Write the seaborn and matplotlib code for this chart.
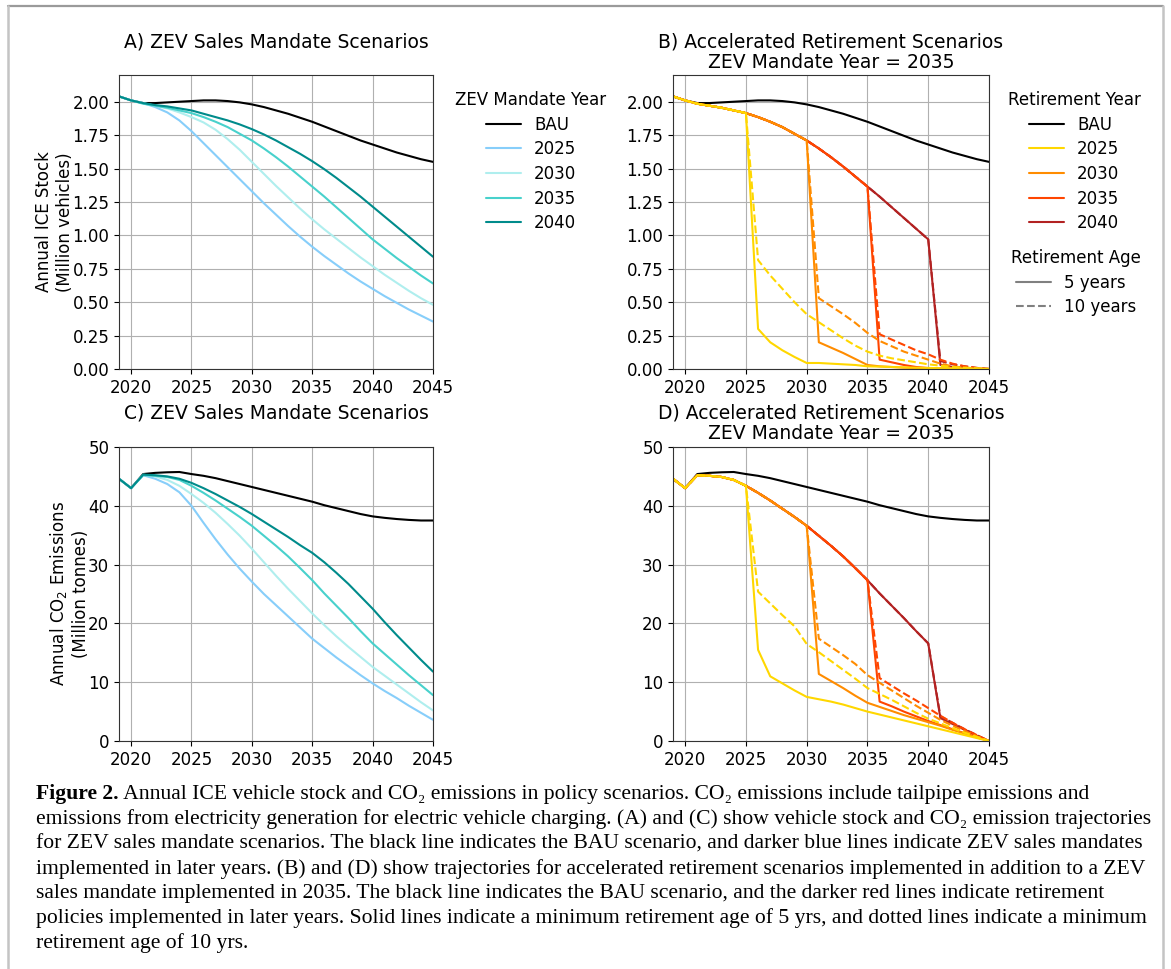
import numpy as np
import pandas as pd
import matplotlib
matplotlib.use("Agg")
import matplotlib.pyplot as plt
from matplotlib.lines import Line2D
import seaborn as sns

years = list(range(2019, 2046))
scenario_labels = ['BAU', '2025', '2030', '2035', '2040']
retire_years = [2025, 2030, 2035, 2040]

# annual ICE stock (million vehicles), ZEV mandate scenarios
stock_bau = [2.04, 2.01, 1.99, 1.99, 1.995, 2.00, 2.005, 2.01, 2.01, 2.005, 1.995, 1.98, 1.96, 1.935,
             1.91, 1.88, 1.85, 1.815, 1.78, 1.745, 1.71, 1.68, 1.65, 1.62, 1.595, 1.57, 1.55]
stock_2025 = [2.04, 2.01, 1.99, 1.96, 1.92, 1.86, 1.78, 1.69, 1.60, 1.51, 1.42, 1.33, 1.24, 1.155,
              1.07, 0.99, 0.915, 0.845, 0.78, 0.715, 0.655, 0.60, 0.545, 0.495, 0.445, 0.40, 0.355]
stock_2030 = [2.04, 2.01, 1.99, 1.97, 1.95, 1.92, 1.885, 1.845, 1.79, 1.72, 1.64, 1.55, 1.46, 1.37,
              1.285, 1.20, 1.12, 1.045, 0.975, 0.905, 0.835, 0.77, 0.705, 0.645, 0.585, 0.53, 0.48]
stock_2035 = [2.04, 2.01, 1.985, 1.97, 1.955, 1.935, 1.915, 1.885, 1.85, 1.81, 1.76, 1.71, 1.65, 1.585,
              1.515, 1.44, 1.365, 1.29, 1.21, 1.13, 1.05, 0.97, 0.90, 0.83, 0.765, 0.70, 0.64]
stock_2040 = [2.04, 2.01, 1.99, 1.975, 1.965, 1.95, 1.935, 1.91, 1.885, 1.86, 1.83, 1.795, 1.755, 1.71,
              1.66, 1.61, 1.555, 1.495, 1.43, 1.36, 1.29, 1.215, 1.14, 1.065, 0.99, 0.915, 0.84]

# stock after accelerated retirement (values from the year after retirement to 2045)
stock_ret5 = {
    2025: [0.30, 0.20, 0.14, 0.09, 0.045, 0.045, 0.04, 0.035, 0.03, 0.02, 0.018, 0.015, 0.012, 0.01,
           0.008, 0.006, 0.005, 0.004, 0.002, 0.0],
    2030: [0.20, 0.16, 0.12, 0.075, 0.03, 0.02, 0.015, 0.01, 0.007, 0.005, 0.004, 0.003, 0.002, 0.001, 0.0],
    2035: [0.07, 0.05, 0.03, 0.015, 0.007, 0.004, 0.002, 0.001, 0.0, 0.0],
    2040: [0.03, 0.015, 0.006, 0.002, 0.0],
}
stock_ret10 = {
    2025: [0.815, 0.70, 0.60, 0.50, 0.41, 0.35, 0.29, 0.23, 0.175, 0.13, 0.10, 0.08, 0.065, 0.05,
           0.035, 0.025, 0.015, 0.01, 0.005, 0.0],
    2030: [0.53, 0.47, 0.41, 0.345, 0.27, 0.21, 0.17, 0.13, 0.10, 0.07, 0.04, 0.02, 0.01, 0.005, 0.0],
    2035: [0.26, 0.22, 0.18, 0.14, 0.11, 0.07, 0.04, 0.02, 0.008, 0.0],
    2040: [0.06, 0.035, 0.02, 0.008, 0.0],
}

# annual CO2 emissions (million tonnes)
emis_bau = [44.6, 43.0, 45.4, 45.6, 45.7, 45.75, 45.4, 45.1, 44.7, 44.2, 43.7, 43.2, 42.7, 42.2,
            41.7, 41.2, 40.7, 40.1, 39.6, 39.1, 38.6, 38.2, 37.95, 37.75, 37.6, 37.5, 37.5]
emis_2025 = [44.6, 43.0, 45.2, 44.6, 43.7, 42.3, 40.0, 37.1, 34.3, 31.7, 29.3, 27.1, 25.0, 23.1,
             21.2, 19.3, 17.4, 15.8, 14.2, 12.7, 11.2, 9.8, 8.5, 7.3, 6.0, 4.8, 3.6]
emis_2030 = [44.6, 43.0, 45.3, 45.0, 44.4, 43.4, 42.0, 40.5, 38.8, 36.9, 34.9, 32.7, 30.4, 28.1,
             25.9, 23.8, 21.7, 19.7, 17.8, 16.0, 14.3, 12.6, 11.1, 9.6, 8.1, 6.6, 5.2]
emis_2035 = [44.6, 43.0, 45.2, 45.1, 44.9, 44.4, 43.4, 42.2, 40.9, 39.5, 38.1, 36.6, 34.9, 33.2,
             31.4, 29.4, 27.35, 25.1, 23.0, 20.9, 18.7, 16.6, 14.8, 13.0, 11.2, 9.5, 7.8]
emis_2040 = [44.6, 43.0, 45.3, 45.2, 45.0, 44.6, 43.9, 43.0, 42.0, 40.9, 39.8, 38.6, 37.3, 36.0,
             34.7, 33.3, 32.0, 30.4, 28.6, 26.7, 24.6, 22.5, 20.2, 18.0, 15.9, 13.8, 11.8]

emis_ret5 = {
    2025: [15.5, 11.0, 9.8, 8.6, 7.5, 7.1, 6.7, 6.2, 5.6, 5.0, 4.5, 4.0, 3.5, 3.0, 2.5, 2.0, 1.5, 1.0, 0.5, 0.0],
    2030: [11.4, 10.2, 9.0, 7.7, 6.5, 5.8, 5.1, 4.4, 3.8, 3.2, 2.6, 1.9, 1.3, 0.6, 0.0],
    2035: [6.7, 5.9, 5.0, 4.2, 3.4, 2.7, 2.0, 1.3, 0.7, 0.0],
    2040: [3.9, 2.9, 1.9, 0.9, 0.0],
}
emis_ret10 = {
    2025: [25.4, 23.4, 21.4, 19.5, 16.5, 15.1, 13.6, 12.1, 10.6, 9.0, 8.0, 7.0, 5.9, 4.8, 3.8, 3.0, 2.2, 1.4, 0.7, 0.0],
    2030: [17.4, 16.0, 14.6, 13.1, 11.2, 9.9, 8.6, 7.3, 6.0, 4.8, 3.6, 2.6, 1.7, 0.8, 0.0],
    2035: [10.7, 9.4, 8.1, 6.9, 5.6, 4.3, 3.1, 2.0, 1.0, 0.0],
    2040: [4.2, 3.1, 2.0, 1.0, 0.0],
}

blues = ['black', '#87cefa', '#afeeee', '#48d1cc', '#008b8b']
reds = ['black', '#ffd700', '#ff8c00', '#ff4500', '#b22222']

caption = [
    ' Annual ICE vehicle stock and CO\u2082 emissions in policy scenarios. CO\u2082 emissions include tailpipe emissions and',
    'emissions from electricity generation for electric vehicle charging. (A) and (C) show vehicle stock and CO\u2082 emission trajectories',
    'for ZEV sales mandate scenarios. The black line indicates the BAU scenario, and darker blue lines indicate ZEV sales mandates',
    'implemented in later years. (B) and (D) show trajectories for accelerated retirement scenarios implemented in addition to a ZEV',
    'sales mandate implemented in 2035. The black line indicates the BAU scenario, and the darker red lines indicate retirement',
    'policies implemented in later years. Solid lines indicate a minimum retirement age of 5 yrs, and dotted lines indicate a minimum',
    'retirement age of 10 yrs.',
]

sns.set_style('ticks', {'axes.grid': True, 'grid.color': '#b0b0b0', 'axes.edgecolor': '#333333',
                        'text.color': 'black', 'axes.labelcolor': 'black',
                        'xtick.color': 'black', 'ytick.color': 'black'})
plt.rcParams['font.family'] = ['DejaVu Sans']
plt.rcParams['grid.linewidth'] = 0.8
plt.rcParams['xtick.major.size'] = 3.5
plt.rcParams['ytick.major.size'] = 3.5

W, H = 1171, 969
fig = plt.figure(figsize=(W / 100, H / 100), dpi=100)


def box(l, t, r, b):
    return [l / W, 1 - b / H, (r - l) / W, (b - t) / H]


axA = fig.add_axes(box(119, 75, 433, 369))
axB = fig.add_axes(box(673, 75, 989, 369))
axC = fig.add_axes(box(119, 447, 433, 741))
axD = fig.add_axes(box(673, 447, 989, 741))


def line(ax, vals, color, ls='-'):
    df = pd.DataFrame({'year': years, 'value': vals})
    sns.lineplot(data=df, x='year', y='value', ax=ax, color=color, linestyle=ls,
                 lw=1.5, errorbar=None, legend=False)


def retired(base, tail, yr):
    i = years.index(yr) + 1
    return list(base[:i]) + list(tail)


# A and C: ZEV mandate scenarios
for ax, series in [(axA, [stock_bau, stock_2025, stock_2030, stock_2035, stock_2040]),
                   (axC, [emis_bau, emis_2025, emis_2030, emis_2035, emis_2040])]:
    for vals, c in zip(series, blues):
        line(ax, vals, c)

# B and D: retirement scenarios on top of 2035 mandate
for ax, bau, base, r5, r10 in [(axB, stock_bau, stock_2035, stock_ret5, stock_ret10),
                               (axD, emis_bau, emis_2035, emis_ret5, emis_ret10)]:
    line(ax, bau, 'black')
    for k in range(3, -1, -1):
        yr = retire_years[k]
        line(ax, retired(base, r5[yr], yr), reds[k + 1], '-')
        line(ax, retired(base, r10[yr], yr), reds[k + 1], '--')

for ax in [axA, axB]:
    ax.set_ylim(0, 2.2)
    ax.set_yticks(np.arange(0, 2.01, 0.25))
    ax.set_yticklabels(['%.2f' % v for v in np.arange(0, 2.01, 0.25)])
for ax in [axC, axD]:
    ax.set_ylim(0, 50)
    ax.set_yticks([0, 10, 20, 30, 40, 50])
for ax in [axA, axB, axC, axD]:
    ax.set_xlim(2019, 2045)
    ax.set_xticks([2020, 2025, 2030, 2035, 2040, 2045])
    ax.tick_params(labelsize=12)
    ax.set_xlabel('')
    ax.set_ylabel('')
    for s in ax.spines.values():
        s.set_linewidth(0.8)

axA.set_ylabel('Annual ICE Stock\n(Million vehicles)', fontsize=12, labelpad=-1)
axC.set_ylabel('Annual CO$_2$ Emissions\n(Million tonnes)', fontsize=12, labelpad=-1)

axA.set_title('A) ZEV Sales Mandate Scenarios', fontsize=13.5, pad=20)
axC.set_title('C) ZEV Sales Mandate Scenarios', fontsize=13.5, pad=20.5)
axB.set_title('B) Accelerated Retirement Scenarios\nZEV Mandate Year = 2035', fontsize=13.5,
              pad=5, linespacing=1.1)
axD.set_title('D) Accelerated Retirement Scenarios\nZEV Mandate Year = 2035', fontsize=13.5,
              pad=5.5, linespacing=1.1)

leg_kw = dict(frameon=False, fontsize=12, title_fontsize=12, loc='upper center',
              bbox_transform=fig.transFigure, labelspacing=0.4, handlelength=2.1, handletextpad=0.8)
hA = [Line2D([], [], color=c, lw=1.5) for c in blues]
axA.legend(hA, scenario_labels, title='ZEV Mandate Year', bbox_to_anchor=(531 / W, 1 - 76 / H), **leg_kw)
hB = [Line2D([], [], color=c, lw=1.5) for c in reds]
legB = axB.legend(hB, scenario_labels, title='Retirement Year', bbox_to_anchor=(1074 / W, 1 - 76 / H), **leg_kw)
axB.add_artist(legB)
hAge = [Line2D([], [], color='gray', lw=1.5, ls='-'), Line2D([], [], color='gray', lw=1.5, ls='--')]
axB.legend(hAge, ['5 years', '10 years'], title='Retirement Age', bbox_to_anchor=(1076 / W, 1 - 234 / H), **leg_kw)

# page border of the screenshot
fig.add_artist(Line2D([8 / W, 1163 / W], [1 - 6 / H, 1 - 6 / H], color='#9a9a9a', lw=1.6))
fig.add_artist(Line2D([8 / W, 8 / W], [0, 1 - 6 / H], color='#c4c4c4', lw=1.8))
fig.add_artist(Line2D([1163 / W, 1163 / W], [0, 1 - 6 / H], color='#c4c4c4', lw=1.8))

# caption, fitted to the width of the second line
serif = ['Liberation Serif', 'DejaVu Serif']
renderer = fig.canvas.get_renderer()
probe = fig.text(0, 0, caption[1], family=serif, fontsize=13)
cap_size = 13 * (1150 - 36) / probe.get_window_extent(renderer).width
probe.remove()

x0 = 36 / W
baselines = [799, 824, 849, 874, 898, 923, 948]
head = fig.text(x0, 1 - baselines[0] / H, 'Figure 2.', family=serif, fontsize=cap_size,
                fontweight='bold', va='baseline')
hw = head.get_window_extent(renderer).width / W
fig.text(x0 + hw, 1 - baselines[0] / H, caption[0], family=serif, fontsize=cap_size, va='baseline')
for txt, yb in zip(caption[1:], baselines[1:]):
    fig.text(x0, 1 - yb / H, txt, family=serif, fontsize=cap_size, va='baseline')

fig.savefig('out.png', dpi=100)
